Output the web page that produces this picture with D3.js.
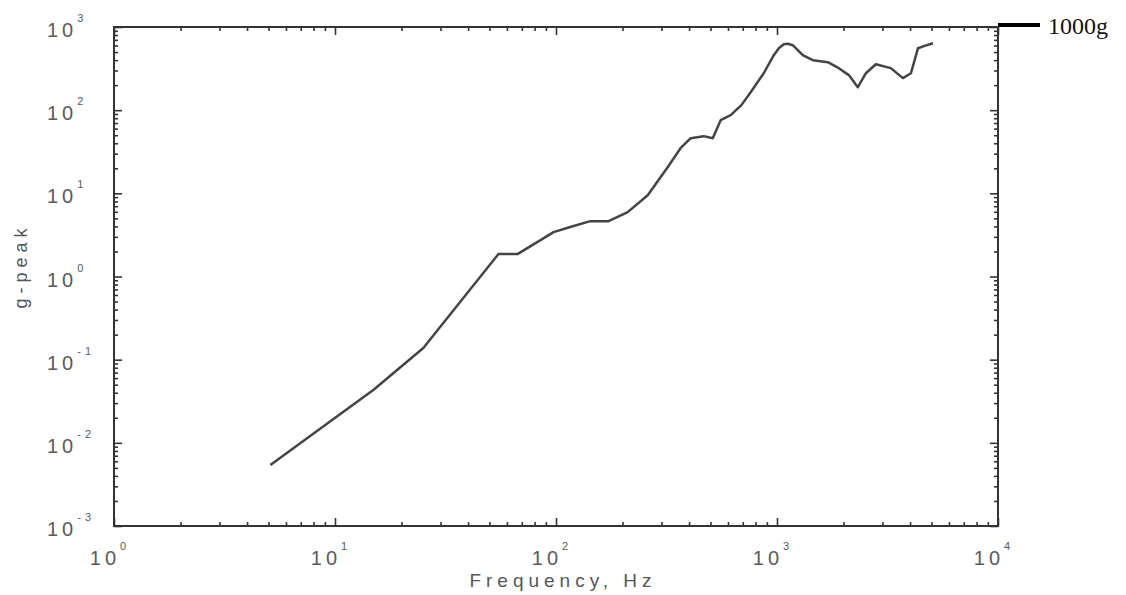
<!DOCTYPE html>
<html>
<head>
<meta charset="utf-8">
<script src="https://cdn.jsdelivr.net/npm/d3@7"></script>
<style>
  body { margin: 0; background: #fff; }
  text { font-family: "Liberation Sans", Arial, sans-serif; }
</style>
</head>
<body>
<script>
// frequency (Hz) and peak acceleration (g)
var freq = [5.1, 14.9, 25.1, 54.9, 66.9, 85.1, 97.5, 116, 143, 173, 211, 260, 320, 366, 407, 466, 512, 556, 617, 690, 760, 871, 967, 1019, 1073, 1120, 1178, 1308, 1452, 1698, 1904, 2113, 2322, 2525, 2800, 3274, 3712, 4036, 4345, 4622, 5078];
var gpeak = [0.0054, 0.0432, 0.138, 1.86, 1.86, 2.74, 3.42, 3.93, 4.63, 4.63, 5.94, 9.5, 20.6, 34.9, 46, 48.7, 46, 75.8, 87, 115, 164, 278, 458, 556, 621, 630, 604, 458, 399, 378, 320, 264, 189, 278, 357, 320, 243, 278, 556, 588, 638];

var xDecades = [0, 1, 2, 3, 4];
var yDecades = [-3, -2, -1, 0, 1, 2, 3];
var xTitle = "Frequency, Hz";
var yTitle = "g-peak";
var markLabel = "1000g";

var width = 1126, height = 595;
// plot box edges (note: "top" is reserved on window, so use own names)
var plotL = 114, plotR = 998, plotT = 27, plotB = 526;

var svg = d3.select("body").append("svg")
    .attr("width", width)
    .attr("height", height);

var x = d3.scaleLog().domain([1, 1e4]).range([plotL, plotR]);
var y = d3.scaleLog().domain([1e-3, 1e3]).range([plotB, plotT]);

function isMajor(v) {
    var l = Math.log10(v);
    return Math.abs(l - Math.round(l)) < 1e-6;
}

var xt = x.ticks(), yt = y.ticks();

function tickLen(d) { return isMajor(d) ? 8 : 4; }

// inward ticks on all four sides
function drawAxis(axisFn, scale, ticks, tx, ty) {
    var g = svg.append("g")
        .attr("transform", "translate(" + tx + "," + ty + ")")
        .call(axisFn(scale).tickValues(ticks).tickFormat(""));
    g.select(".domain").remove();
    return g;
}

var gb = drawAxis(d3.axisBottom, x, xt, 0, plotB);
gb.selectAll(".tick line").attr("y2", function(d) { return -tickLen(d); });
var gtp = drawAxis(d3.axisTop, x, xt, 0, plotT);
gtp.selectAll(".tick line").attr("y2", function(d) { return tickLen(d); });
var gl = drawAxis(d3.axisLeft, y, yt, plotL, 0);
gl.selectAll(".tick line").attr("x2", function(d) { return tickLen(d); });
var gr = drawAxis(d3.axisRight, y, yt, plotR, 0);
gr.selectAll(".tick line").attr("x2", function(d) { return -tickLen(d); });

svg.selectAll(".tick line")
    .attr("stroke", "#333")
    .attr("stroke-width", 1.6);

// frame
svg.append("rect")
    .attr("x", plotL)
    .attr("y", plotT)
    .attr("width", plotR - plotL)
    .attr("height", plotB - plotT)
    .attr("fill", "none")
    .attr("stroke", "#333")
    .attr("stroke-width", 2);

// tick labels
var xl = svg.append("g").selectAll("text")
    .data(xDecades)
    .enter()
    .append("text")
        .attr("x", function(d) { return x(Math.pow(10, d)) - 4; })
        .attr("y", plotB + 39)
        .attr("text-anchor", "middle")
        .attr("font-size", 20)
        .attr("letter-spacing", 4)
        .attr("fill", "#5a5a5a");
xl.append("tspan").text("10");
xl.append("tspan")
    .attr("dy", -15)
    .attr("font-size", 11)
    .text(function(d) { return d; });

var yl = svg.append("g").selectAll("text")
    .data(yDecades)
    .enter()
    .append("text")
        .attr("x", 47)
        .attr("y", function(d) { return y(Math.pow(10, d)) + 10; })
        .attr("font-size", 20)
        .attr("letter-spacing", 4)
        .attr("fill", "#5a5a5a");
yl.append("tspan").text("10");
yl.append("tspan")
    .attr("dy", -15)
    .attr("font-size", 11)
    .text(function(d) { return d; });

// axis titles
svg.append("text")
    .attr("x", 563)
    .attr("y", 587)
    .attr("text-anchor", "middle")
    .attr("font-size", 19)
    .attr("letter-spacing", 5)
    .attr("fill", "#555")
    .text(xTitle);

svg.append("text")
    .attr("transform", "translate(27,266) rotate(-90)")
    .attr("text-anchor", "middle")
    .attr("font-size", 18)
    .attr("letter-spacing", 5)
    .attr("fill", "#555")
    .text(yTitle);

// curve
var line = d3.line()
    .x(function(d, i) { return x(freq[i]); })
    .y(function(d, i) { return y(gpeak[i]); });

svg.append("path")
    .attr("d", line(freq))
    .attr("fill", "none")
    .attr("stroke", "#444")
    .attr("stroke-width", 2.5)
    .attr("stroke-linejoin", "round");

// 1000g marker
svg.append("line")
    .attr("x1", plotR)
    .attr("x2", plotR + 42)
    .attr("y1", y(1000) - 2)
    .attr("y2", y(1000) - 2)
    .attr("stroke", "#000")
    .attr("stroke-width", 4);

svg.append("text")
    .attr("x", plotR + 50)
    .attr("y", y(1000) + 7)
    .style("font-family", "'Liberation Serif', 'Times New Roman', serif")
    .attr("font-size", 24)
    .attr("fill", "#111")
    .text(markLabel);
</script>
</body>
</html>
